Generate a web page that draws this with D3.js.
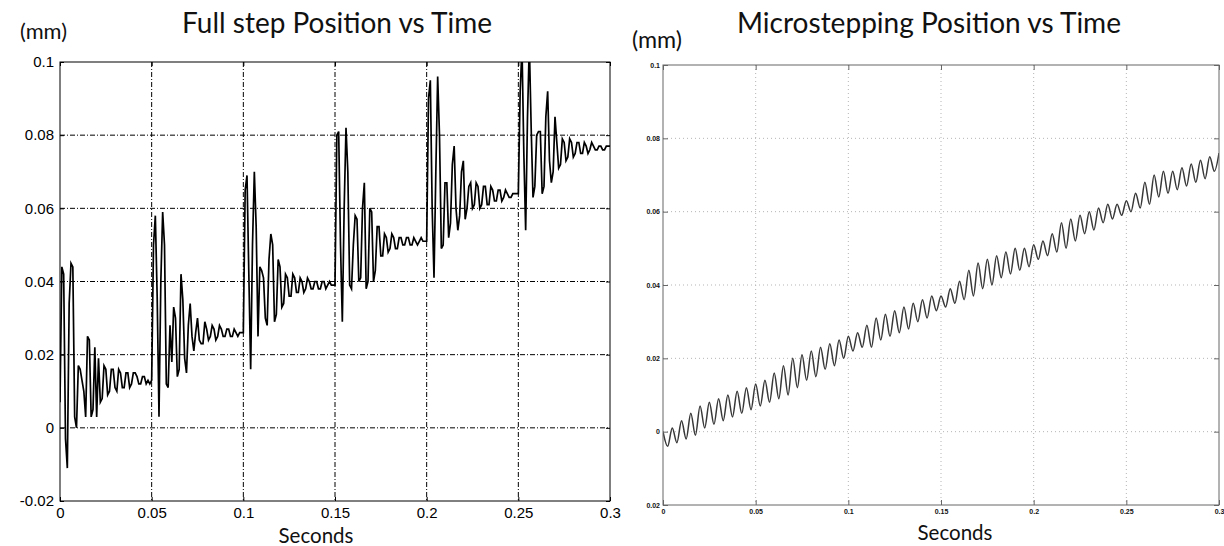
<!DOCTYPE html>
<html>
<head>
<meta charset="utf-8">
<script src="https://cdn.jsdelivr.net/npm/d3@7"></script>
<style>
  body { margin: 0; background: #fff; }
  svg { display: block; }
</style>
</head>
<body>
<svg id="chart" width="1224" height="546"></svg>
<script>
// ---- data ----

// Full step: one array per step, one sample every 1 ms from the step start
const stepStarts = [0, 0.05, 0.1, 0.15, 0.2, 0.25];
const sampleDt = 0.001;
const fullStep1 = [0.007, 0.044, 0.042, -0.003, -0.011, 0.034, 0.045, 0.044, 0.003, 0.000,
  0.017, 0.016, 0.013, 0.010, 0.003, 0.025, 0.024, 0.003, 0.005, 0.022,
  0.003, 0.019, 0.007, 0.008, 0.017, 0.016, 0.009, 0.010, 0.016, 0.016,
  0.011, 0.010, 0.016, 0.015, 0.011, 0.011, 0.015, 0.015, 0.011, 0.012,
  0.015, 0.015, 0.014, 0.012, 0.012, 0.014, 0.014, 0.012, 0.013, 0.012];
const fullStep2 = [0.013, 0.050, 0.058, 0.036, 0.003, 0.040, 0.059, 0.050, 0.012, 0.011,
  0.028, 0.018, 0.033, 0.030, 0.014, 0.016, 0.042, 0.035, 0.019, 0.015,
  0.028, 0.034, 0.025, 0.021, 0.026, 0.030, 0.024, 0.023, 0.023, 0.029,
  0.027, 0.024, 0.025, 0.028, 0.027, 0.024, 0.025, 0.028, 0.027, 0.025,
  0.025, 0.027, 0.027, 0.025, 0.025, 0.027, 0.026, 0.025, 0.026, 0.026];
const fullStep3 = [0.026, 0.065, 0.069, 0.042, 0.016, 0.050, 0.070, 0.055, 0.025, 0.044,
  0.043, 0.041, 0.030, 0.028, 0.046, 0.053, 0.050, 0.029, 0.031, 0.046,
  0.044, 0.033, 0.034, 0.042, 0.041, 0.036, 0.036, 0.042, 0.041, 0.037,
  0.037, 0.041, 0.040, 0.037, 0.038, 0.041, 0.040, 0.038, 0.038, 0.040,
  0.040, 0.038, 0.038, 0.040, 0.040, 0.038, 0.039, 0.040, 0.039, 0.039];
const fullStep4 = [0.039, 0.080, 0.081, 0.050, 0.029, 0.060, 0.082, 0.070, 0.039, 0.038,
  0.050, 0.058, 0.057, 0.040, 0.041, 0.060, 0.067, 0.038, 0.040, 0.060,
  0.059, 0.040, 0.043, 0.055, 0.055, 0.047, 0.047, 0.053, 0.052, 0.048,
  0.049, 0.053, 0.052, 0.049, 0.049, 0.052, 0.052, 0.050, 0.050, 0.052,
  0.052, 0.050, 0.050, 0.052, 0.051, 0.050, 0.051, 0.052, 0.051, 0.051];
const fullStep5 = [0.051, 0.090, 0.095, 0.060, 0.041, 0.070, 0.096, 0.080, 0.049, 0.050,
  0.067, 0.067, 0.052, 0.056, 0.072, 0.077, 0.060, 0.054, 0.058, 0.070,
  0.073, 0.057, 0.060, 0.066, 0.067, 0.060, 0.061, 0.067, 0.066, 0.060,
  0.061, 0.066, 0.066, 0.061, 0.061, 0.066, 0.065, 0.062, 0.062, 0.065,
  0.065, 0.062, 0.063, 0.065, 0.064, 0.063, 0.063, 0.064, 0.064, 0.064];
const fullStep6 = [0.064, 0.092, 0.104, 0.075, 0.054, 0.085, 0.105, 0.082, 0.063, 0.066,
  0.080, 0.081, 0.081, 0.064, 0.066, 0.085, 0.092, 0.073, 0.067, 0.070,
  0.085, 0.078, 0.071, 0.072, 0.079, 0.078, 0.073, 0.074, 0.079, 0.078,
  0.074, 0.075, 0.078, 0.078, 0.075, 0.075, 0.078, 0.077, 0.075, 0.076,
  0.078, 0.077, 0.076, 0.076, 0.077, 0.077, 0.076, 0.076, 0.077, 0.077];
const fullStepEnd = 0.077;

// Microstepping: alternating peak / trough every 2.5 ms
const microDt = 0.0025;
const microPos = [
  0.000, -0.004, 0.001, -0.003, 0.003, -0.002, 0.005, -0.001, 0.007, 0.001,
  0.008, 0.002, 0.009, 0.003, 0.010, 0.004, 0.011, 0.005, 0.012, 0.006,
  0.013, 0.007, 0.014, 0.008, 0.016, 0.009, 0.018, 0.010, 0.020, 0.012,
  0.021, 0.014, 0.022, 0.015, 0.023, 0.017, 0.024, 0.018, 0.025, 0.020,
  0.026, 0.022, 0.027, 0.023, 0.029, 0.023, 0.031, 0.025, 0.032, 0.026,
  0.033, 0.027, 0.034, 0.028, 0.035, 0.030, 0.036, 0.031, 0.037, 0.033,
  0.037, 0.034, 0.039, 0.035, 0.041, 0.036, 0.044, 0.037, 0.046, 0.039,
  0.047, 0.040, 0.048, 0.042, 0.049, 0.043, 0.050, 0.044, 0.050, 0.045,
  0.051, 0.047, 0.052, 0.048, 0.054, 0.049, 0.057, 0.050, 0.058, 0.052,
  0.059, 0.054, 0.060, 0.055, 0.061, 0.057, 0.062, 0.058, 0.062, 0.059,
  0.063, 0.060, 0.065, 0.061, 0.068, 0.062, 0.070, 0.064, 0.071, 0.065,
  0.071, 0.066, 0.072, 0.067, 0.073, 0.068, 0.074, 0.069, 0.075, 0.071,
  0.076];

// ticks and labels
const xTicks = [0, 0.05, 0.1, 0.15, 0.2, 0.25, 0.3];
const xLabels = ["0", "0.05", "0.1", "0.15", "0.2", "0.25", "0.3"];
const yTicks = [-0.02, 0, 0.02, 0.04, 0.06, 0.08, 0.1];
const leftYLabels = ["-0.02", "0", "0.02", "0.04", "0.06", "0.08", "0.1"];
const rightYLabels = ["0.02", "0", "0.02", "0.04", "0.06", "0.08", "0.1"];

// ---- drawing ----
const svg = d3.select("#chart");

// build full-step points (t, value)
const fullSteps = [fullStep1, fullStep2, fullStep3, fullStep4, fullStep5, fullStep6];
const fullPoints = [];
fullSteps.forEach((arr, s) => {
  arr.forEach((v, i) => fullPoints.push([stepStarts[s] + i * sampleDt, v]));
});
fullPoints.push([0.3, fullStepEnd]);

const microPoints = microPos.map((v, i) => [i * microDt, v]);

function fitText(sel, targetWidth) {
  const fs = parseFloat(sel.attr("font-size"));
  const w = sel.node().getComputedTextLength();
  sel.attr("font-size", (fs * targetWidth / w).toFixed(2));
}

function drawPanel(cfg) {
  const x = d3.scaleLinear().domain([0, 0.3]).range([cfg.left, cfg.right]);
  const y = d3.scaleLinear().domain([-0.02, 0.1]).range([cfg.bottom, cfg.top]);
  const g = svg.append("g");

  // grid
  g.append("g").selectAll("line")
    .data(xTicks.slice(1, -1))
    .join("line")
    .attr("x1", d => x(d)).attr("x2", d => x(d))
    .attr("y1", cfg.top).attr("y2", cfg.bottom)
    .attr("stroke", cfg.gridColor)
    .attr("stroke-width", 1)
    .attr("stroke-dasharray", cfg.gridDash);
  g.append("g").selectAll("line")
    .data(yTicks.slice(1, -1))
    .join("line")
    .attr("x1", cfg.left).attr("x2", cfg.right)
    .attr("y1", d => y(d)).attr("y2", d => y(d))
    .attr("stroke", cfg.gridColor)
    .attr("stroke-width", 1)
    .attr("stroke-dasharray", cfg.gridDash);

  // clip for the trace
  const clipId = "clip-" + cfg.id;
  svg.append("clipPath").attr("id", clipId)
    .append("rect")
    .attr("x", cfg.left).attr("y", cfg.top)
    .attr("width", cfg.right - cfg.left).attr("height", cfg.bottom - cfg.top);

  const line = d3.line()
    .x(d => x(d[0]))
    .y(d => y(d[1]))
    .curve(cfg.curve);

  g.append("path")
    .datum(cfg.points)
    .attr("clip-path", "url(#" + clipId + ")")
    .attr("fill", "none")
    .attr("stroke", cfg.lineColor)
    .attr("stroke-width", cfg.lineWidth)
    .attr("stroke-linejoin", "miter")
    .attr("d", line);

  // axes with inward ticks
  const axisStyle = (a) => {
    a.select(".domain").remove();
    a.selectAll(".tick line").attr("stroke", cfg.frameColor);
    a.selectAll(".tick text")
      .attr("fill", cfg.textColor)
      .attr("font-family", "'Liberation Sans', Arial, sans-serif")
      .attr("font-size", cfg.tickFont)
      .attr("font-weight", cfg.tickWeight);
  };

  g.append("g")
    .attr("transform", "translate(0," + cfg.bottom + ")")
    .call(d3.axisBottom(x).tickValues(xTicks).tickFormat((d, i) => xLabels[i])
      .tickSize(-cfg.tickLen).tickPadding(cfg.xPad))
    .call(axisStyle);
  g.append("g")
    .attr("transform", "translate(0," + cfg.top + ")")
    .call(d3.axisTop(x).tickValues(xTicks).tickFormat("").tickSize(-cfg.tickLen))
    .call(axisStyle);
  g.append("g")
    .attr("transform", "translate(" + cfg.left + ",0)")
    .call(d3.axisLeft(y).tickValues(yTicks).tickFormat((d, i) => cfg.yLabels[i])
      .tickSize(-cfg.tickLen).tickPadding(cfg.yPad))
    .call(axisStyle);
  g.append("g")
    .attr("transform", "translate(" + cfg.right + ",0)")
    .call(d3.axisRight(y).tickValues(yTicks).tickFormat("").tickSize(-cfg.tickLen))
    .call(axisStyle);

  // frame
  g.append("rect")
    .attr("x", cfg.left).attr("y", cfg.top)
    .attr("width", cfg.right - cfg.left).attr("height", cfg.bottom - cfg.top)
    .attr("fill", "none")
    .attr("stroke", cfg.frameColor)
    .attr("stroke-width", 1);

  // titles and labels
  const title = svg.append("text")
    .attr("x", cfg.titleX).attr("y", cfg.titleY)
    .attr("text-anchor", "middle")
    .attr("font-family", "Lato, 'Open Sans', sans-serif")
    .attr("font-size", 24)
    .attr("fill", "#111")
    .text(cfg.title);
  fitText(title, cfg.titleW);

  const unit = svg.append("text")
    .attr("x", cfg.unitX).attr("y", cfg.unitY)
    .attr("font-family", "Lato, 'Open Sans', sans-serif")
    .attr("font-size", 18)
    .attr("fill", "#111")
    .text("(mm)");
  fitText(unit, cfg.unitW);

  const xl = svg.append("text")
    .attr("x", cfg.xLabelX).attr("y", cfg.xLabelY)
    .attr("text-anchor", "middle")
    .attr("font-family", "Lato, 'Open Sans', sans-serif")
    .attr("font-size", 18)
    .attr("fill", "#111")
    .text("Seconds");
  fitText(xl, cfg.xLabelW);
}

drawPanel({
  id: "full", left: 60, right: 610, top: 62, bottom: 501,
  points: fullPoints, curve: d3.curveLinear, lineColor: "#000", lineWidth: 1.7,
  gridColor: "#000", gridDash: "5,2,1,2", frameColor: "#000", textColor: "#000",
  tickLen: 4, tickFont: 15, tickWeight: "normal", xPad: 6, yPad: 6, yLabels: leftYLabels,
  title: "Full step Position vs Time", titleX: 337, titleY: 33, titleW: 310,
  unitX: 20, unitY: 39, unitW: 47,
  xLabelX: 316, xLabelY: 543, xLabelW: 75
});

drawPanel({
  id: "micro", left: 663, right: 1219, top: 65, bottom: 505,
  points: microPoints, curve: d3.curveMonotoneX, lineColor: "#383838", lineWidth: 1.5,
  gridColor: "#b5b5b5", gridDash: "1,3", frameColor: "#666", textColor: "#111",
  tickLen: 5, tickFont: 7, tickWeight: "bold", xPad: 4, yPad: 3, yLabels: rightYLabels,
  title: "Microstepping Position vs Time", titleX: 929, titleY: 33, titleW: 384,
  unitX: 632, unitY: 48, unitW: 50,
  xLabelX: 955, xLabelY: 540, xLabelW: 75
});
</script>
</body>
</html>
